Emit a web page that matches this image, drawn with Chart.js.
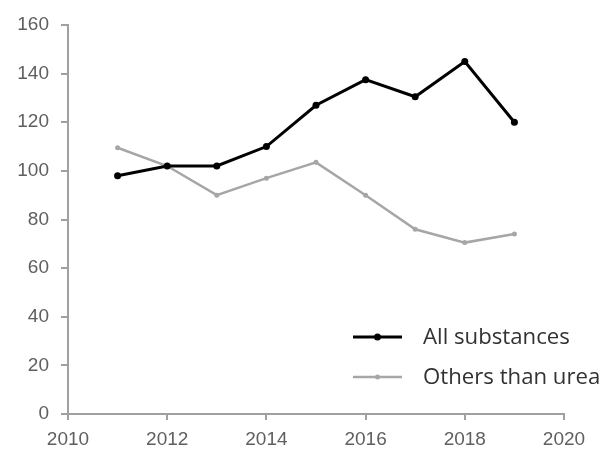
<!DOCTYPE html>
<html>
<head>
<meta charset="utf-8">
<script src="https://cdn.jsdelivr.net/npm/chart.js@4"></script>
<style>
html,body{margin:0;padding:0;background:#fff;}
#wrap{width:602px;height:452px;position:relative;}
</style>
</head>
<body>
<div id="wrap"><canvas id="c" width="602" height="452"></canvas></div>
<script>
const years = [2011, 2012, 2013, 2014, 2015, 2016, 2017, 2018, 2019];
const allSubstances = [98, 102, 102, 110, 127, 137.5, 130.5, 145, 120];
const othersThanUrea = [109.5, 102, 90, 97, 103.5, 90, 76, 70.5, 74];
const seriesNames = ["All substances", "Others than urea"];
const xTicks = [2010, 2012, 2014, 2016, 2018, 2020];
const yTicks = [0, 20, 40, 60, 80, 100, 120, 140, 160];

const legendPlugin = {
  id: 'customLegend',
  afterDraw(chart) {
    const ctx = chart.ctx;
    const rowsY = [337, 377];
    ctx.save();
    ctx.font = '20px "Open Sans", Lato, sans-serif';
    const w = ctx.measureText(chart.data.datasets[0].label).width;
    const size = Math.max(14, Math.min(26, 20 * 147 / w));
    ctx.restore();
    chart.data.datasets.forEach((ds, i) => {
      const y = rowsY[i];
      ctx.save();
      ctx.strokeStyle = ds.borderColor;
      ctx.lineWidth = ds.borderWidth;
      ctx.beginPath();
      ctx.moveTo(353, y);
      ctx.lineTo(402, y);
      ctx.stroke();
      ctx.fillStyle = ds.pointBackgroundColor;
      ctx.beginPath();
      ctx.arc(377.5, y, ds.pointRadius, 0, Math.PI * 2);
      ctx.fill();
      ctx.fillStyle = '#333333';
      ctx.font = size.toFixed(1) + 'px "Open Sans", Lato, sans-serif';
      ctx.textBaseline = 'middle';
      ctx.textAlign = 'left';
      ctx.fillText(ds.label, 423, y + 1);
      ctx.restore();
    });
  }
};

new Chart(document.getElementById('c'), {
  type: 'line',
  data: {
    datasets: [
      {
        label: seriesNames[0],
        data: years.map((x, i) => ({x, y: allSubstances[i]})),
        borderColor: '#000000',
        backgroundColor: '#000000',
        pointBackgroundColor: '#000000',
        pointBorderColor: '#000000',
        borderWidth: 3,
        pointRadius: 3.5,
        pointBorderWidth: 0,
        tension: 0
      },
      {
        label: seriesNames[1],
        data: years.map((x, i) => ({x, y: othersThanUrea[i]})),
        borderColor: '#a6a6a6',
        backgroundColor: '#a6a6a6',
        pointBackgroundColor: '#a6a6a6',
        pointBorderColor: '#a6a6a6',
        borderWidth: 2.5,
        pointRadius: 2.5,
        pointBorderWidth: 0,
        tension: 0
      }
    ]
  },
  options: {
    responsive: false,
    animation: false,
    events: [],
    layout: {padding: {top: 25, right: 38, left: 0, bottom: 0}},
    plugins: {legend: {display: false}, tooltip: {enabled: false}},
    scales: {
      x: {
        type: 'linear',
        min: 2010,
        max: 2020,
        afterBuildTicks(scale) { scale.ticks = xTicks.map(v => ({value: v})); },
        afterFit(scale) { scale.height = 38; },
        grid: {drawOnChartArea: false, color: '#a0a0a0', tickLength: 6, tickColor: '#a0a0a0', lineWidth: 2},
        border: {color: '#a0a0a0', width: 2},
        ticks: {color: '#5f5f5f', font: {family: '"Liberation Sans", Arial, sans-serif', size: 19}, padding: 8, maxRotation: 0, callback: v => String(v)}
      },
      y: {
        min: 0,
        max: 160,
        afterBuildTicks(scale) { scale.ticks = yTicks.map(v => ({value: v})); },
        afterFit(scale) { scale.width = 68; },
        grid: {drawOnChartArea: false, color: '#a0a0a0', tickLength: 7, tickColor: '#a0a0a0', lineWidth: 2},
        border: {color: '#a0a0a0', width: 2},
        ticks: {color: '#5f5f5f', font: {family: '"Liberation Sans", Arial, sans-serif', size: 19}, padding: 12, callback: v => String(v)}
      }
    }
  },
  plugins: [legendPlugin]
});
</script>
</body>
</html>
